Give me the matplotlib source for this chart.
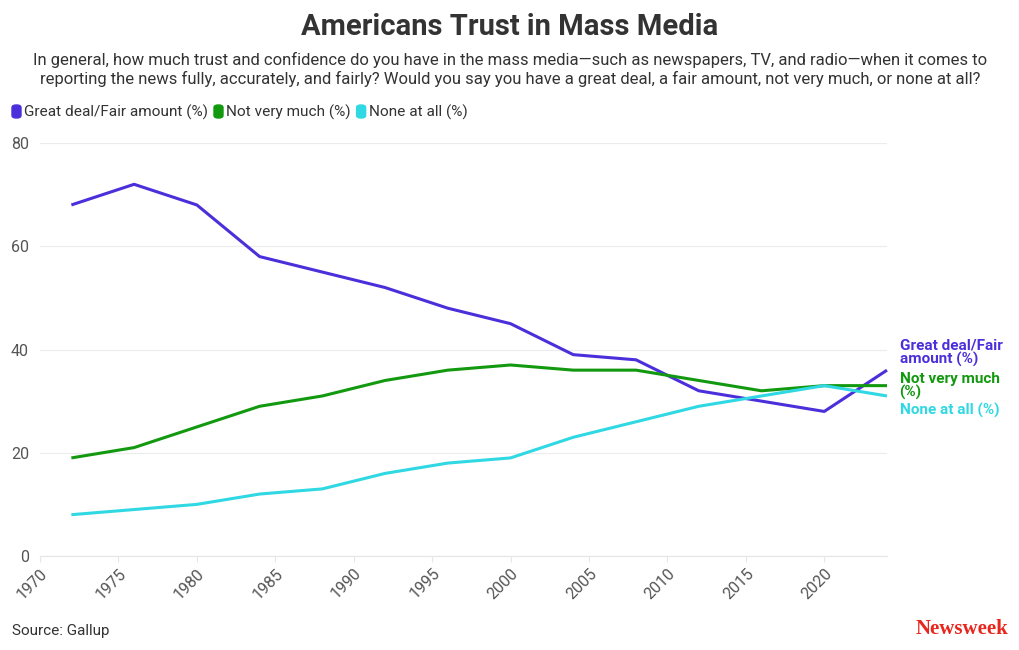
import matplotlib.pyplot as plt
from matplotlib.patches import FancyBboxPatch

plt.rcParams['font.family'] = ['Roboto', 'DejaVu Sans']

years = [1972, 1976, 1980, 1984, 1988, 1992, 1996, 2000, 2004, 2008, 2012, 2016, 2020, 2024]
great_deal = [68, 72, 68, 58, 55, 52, 48, 45, 39, 38, 32, 30, 28, 36]
not_very_much = [19, 21, 25, 29, 31, 34, 36, 37, 36, 36, 34, 32, 33, 33]
none_at_all = [8, 9, 10, 12, 13, 16, 18, 19, 23, 26, 29, 31, 33, 31]

series_names = ["Great deal/Fair amount (%)", "Not very much (%)", "None at all (%)"]
end_labels = ["Great deal/Fair\namount (%)", "Not very much\n(%)", "None at all (%)"]
colors = ["#4b2fdb", "#12990f", "#2fd8e2"]
x_ticks = list(range(1970, 2025, 5))
y_ticks = [0, 20, 40, 60, 80]

fig = plt.figure(figsize=(10.2, 6.5), dpi=100)
ax = fig.add_axes([40 / 1020, 94 / 650, 847 / 1020, 413 / 650])

for vals, c in zip([great_deal, not_very_much, none_at_all], colors):
    ax.plot(years, vals, color=c, lw=2.2, solid_capstyle='butt', clip_on=False)

ax.set_xlim(1970, 2024)
ax.set_ylim(0, 80)
ax.set_xticks(x_ticks)
ax.set_xticklabels([str(t) for t in x_ticks], rotation=45, ha='right',
                   rotation_mode='anchor', fontsize=11.5, color='#555555')
ax.set_yticks(y_ticks)
ax.set_yticklabels([str(t) for t in y_ticks], fontsize=11.5, color='#555555')
ax.tick_params(axis='y', length=0, pad=8)
ax.tick_params(axis='x', length=4, color='#e6e6e6', pad=3)
ax.grid(axis='y', color='#ececec', lw=0.8)
ax.set_axisbelow(True)
for s in ax.spines.values():
    s.set_visible(False)
ax.spines['bottom'].set_visible(True)
ax.spines['bottom'].set_color('#e6e6e6')

# end labels
label_y = [39.4, 33.0, 28.1]
for lab, yv, c in zip(end_labels, label_y, colors):
    ax.text(2024.8, yv, lab, color=c, fontsize=11, fontweight='bold',
            va='center', ha='left', linespacing=0.9, clip_on=False)

fig.text(0.5, 0.958, "Americans Trust in Mass Media", ha='center', va='center',
         fontsize=21, fontweight='bold', color='#333333')
fig.text(0.5, 0.893,
         "In general, how much trust and confidence do you have in the mass media\u2014such as newspapers, TV, and radio\u2014when it comes to\n"
         "reporting the news fully, accurately, and fairly? Would you say you have a great deal, a fair amount, not very much, or none at all?",
         ha='center', va='center', fontsize=12, color='#333333', linespacing=1.2)

# legend
lx = 12
for name, c in zip(series_names, colors):
    fig.patches.append(FancyBboxPatch((lx / 1020, 1 - 118 / 650), 9 / 1020, 13 / 650,
                                      boxstyle="round,pad=0,rounding_size=0.004",
                                      transform=fig.transFigure, color=c))
    t = fig.text((lx + 12) / 1020, 1 - 112 / 650, name, fontsize=11.1, color='#333333', va='center')
    fig.canvas.draw()
    bb = t.get_window_extent()
    lx = bb.x1 + 6

fig.text(12 / 1020, 1 - 631 / 650, "Source: Gallup", fontsize=11, color='#333333', va='center')
fig.text(1008 / 1020, 1 - 629 / 650, "Newsweek", fontsize=15, color='#e8261c',
         fontweight='bold', family=['Liberation Serif', 'DejaVu Serif'], ha='right', va='center')

fig.savefig("out.png", dpi=100)
